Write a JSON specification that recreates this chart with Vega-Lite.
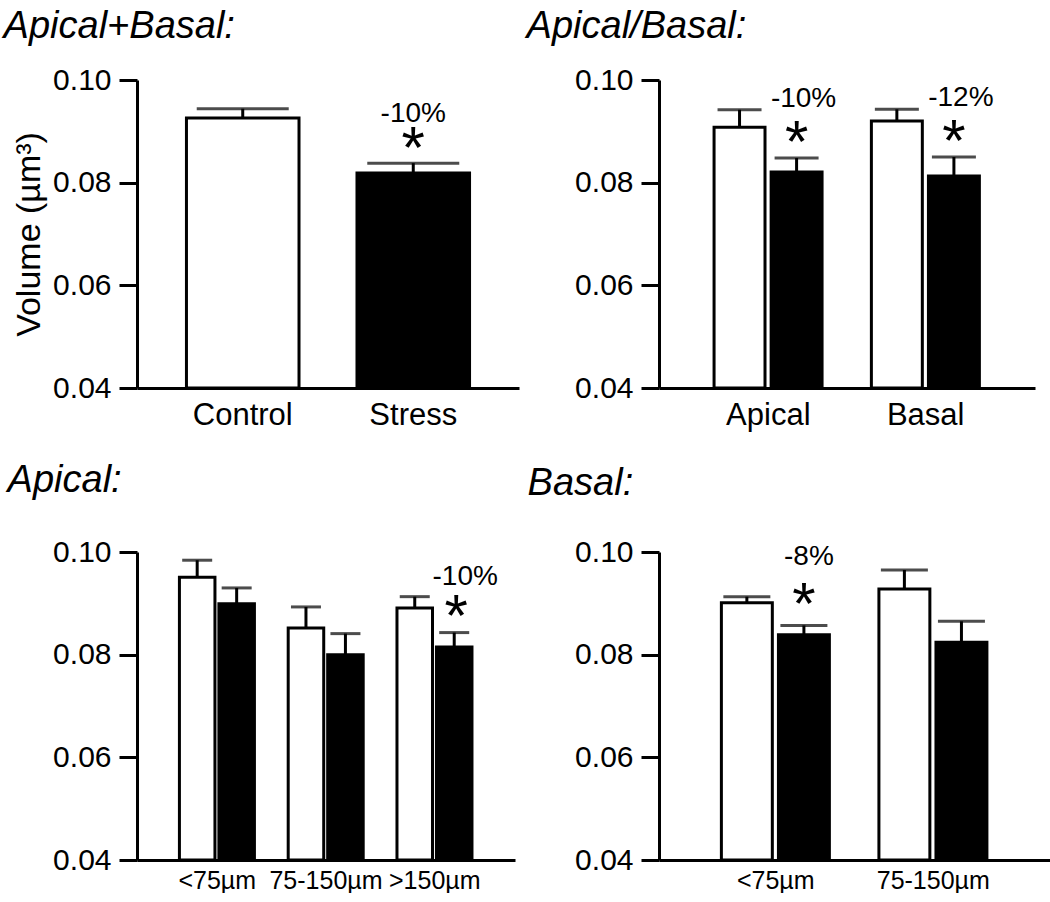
{
  "$schema": "https://vega.github.io/schema/vega-lite/v6.json",
  "background": "white",
  "padding": {"left": 3, "top": 8, "right": 0, "bottom": 0},
  "columns": 2,
  "spacing": {"row": 32, "column": 7},
  "resolve": {"scale": {"xOffset": "independent", "x": "independent", "y": "independent"}},
  "config": {
    "font": "Liberation Sans",
    "view": {"stroke": null},
    "axis": {"domainColor": "black", "domainWidth": 3, "tickColor": "black", "tickWidth": 3, "labelColor": "black", "titleColor": "black", "grid": false, "labelFont": "Liberation Sans", "titleFont": "Liberation Sans"},
    "axisY": {"tickSize": 18, "labelFontSize": 30, "labelPadding": 8, "titleFontSize": 34, "titleFontWeight": "normal", "titlePadding": 6},
    "axisX": {"ticks": false, "labelPadding": 12, "labelAngle": 0, "title": null},
    "title": {"font": "Liberation Sans", "fontStyle": "italic", "fontWeight": "normal", "fontSize": 38, "anchor": "start", "color": "black", "baseline": "alphabetic"}
  },
  "concat": [
    {
      "title": {"text": "Apical+Basal:", "offset": 19, "dx": -9},
      "width": 382, "height": 308,
      "data": {"values": [
        {"cond": "Control", "value": 0.0926, "err": 0.0944, "pct": "", "sig": ""},
        {"cond": "Stress", "value": 0.0819, "err": 0.0838, "pct": "-10%", "sig": "*"}
      ]},
      "encoding": {
        "x": {"field": "cond", "type": "nominal", "sort": null, "title": null, "scale": {"paddingInner": 0.34, "paddingOuter": 0.29}, "axis": {"labelFontSize": 31}}
      },
      "layer": [
        {"mark": {"type": "bar", "stroke": "black", "strokeWidth": 3},
         "encoding": {
           "y": {"field": "value", "type": "quantitative", "title": "Volume (µm³)", "scale": {"domain": [0.04, 0.1], "zero": false, "nice": false}, "axis": {"values": [0.04, 0.06, 0.08, 0.1], "format": ".2f"}},
           "y2": {"datum": 0.04},
           "fill": {"field": "cond", "type": "nominal", "scale": {"domain": ["Control", "Stress"], "range": ["#ffffff", "#000000"]}, "legend": null}
         }},
        {"mark": {"type": "rule", "strokeWidth": 3, "color": "black"},
         "encoding": {"y": {"field": "value", "type": "quantitative", "title": "Volume (µm³)"}, "y2": {"field": "err"}}},
        {"mark": {"type": "tick", "thickness": 3, "size": 92, "color": "black"},
         "encoding": {"y": {"field": "err", "type": "quantitative", "title": "Volume (µm³)"}}},
        {"transform": [{"filter": "datum.sig != ''"}],
         "mark": {"type": "text", "fontSize": 28, "dy": -41, "baseline": "alphabetic", "color": "black"},
         "encoding": {"y": {"field": "err", "type": "quantitative", "title": "Volume (µm³)"}, "text": {"field": "pct"}}},
        {"transform": [{"filter": "datum.sig != ''"}],
         "mark": {"type": "text", "fontSize": 60, "dy": 5, "baseline": "alphabetic", "color": "black"},
         "encoding": {"y": {"field": "err", "type": "quantitative", "title": "Volume (µm³)"}, "text": {"field": "sig"}}}
      ]
    },
    {
      "title": {"text": "Apical/Basal:", "offset": 19, "dx": -48},
      "width": 376, "height": 308,
      "data": {"values": [
        {"grp": "Apical", "cond": "Control", "value": 0.0908, "err": 0.0942, "pct": "", "sig": ""},
        {"grp": "Apical", "cond": "Stress", "value": 0.0821, "err": 0.0848, "pct": "-10%", "sig": "*"},
        {"grp": "Basal", "cond": "Control", "value": 0.0920, "err": 0.0943, "pct": "", "sig": ""},
        {"grp": "Basal", "cond": "Stress", "value": 0.0813, "err": 0.0850, "pct": "-12%", "sig": "*"}
      ]},
      "encoding": {
        "x": {"field": "grp", "type": "nominal", "sort": null, "title": null, "scale": {"paddingInner": 0.31, "paddingOuter": 0.35}, "axis": {"labelFontSize": 31}},
        "xOffset": {"field": "cond", "type": "nominal", "sort": null, "scale": {"range": [0, 108], "paddingInner": 0.107, "paddingOuter": 0}}
      },
      "layer": [
        {"mark": {"type": "bar", "stroke": "black", "strokeWidth": 3},
         "encoding": {
           "y": {"field": "value", "type": "quantitative", "title": null, "scale": {"domain": [0.04, 0.1], "zero": false, "nice": false}, "axis": {"values": [0.04, 0.06, 0.08, 0.1], "format": ".2f"}},
           "y2": {"datum": 0.04},
           "fill": {"field": "cond", "type": "nominal", "scale": {"domain": ["Control", "Stress"], "range": ["#ffffff", "#000000"]}, "legend": null}
         }},
        {"mark": {"type": "rule", "strokeWidth": 3, "color": "black"},
         "encoding": {"y": {"field": "value", "type": "quantitative", "title": null}, "y2": {"field": "err"}}},
        {"mark": {"type": "tick", "thickness": 3, "size": 44, "color": "black"},
         "encoding": {"y": {"field": "err", "type": "quantitative", "title": null}}},
        {"transform": [{"filter": "datum.sig != ''"}],
         "mark": {"type": "text", "fontSize": 28, "dy": -51, "dx": 7, "baseline": "alphabetic", "color": "black"},
         "encoding": {"y": {"field": "err", "type": "quantitative", "title": null}, "text": {"field": "pct"}}},
        {"transform": [{"filter": "datum.sig != ''"}],
         "mark": {"type": "text", "fontSize": 60, "dy": 4, "baseline": "alphabetic", "color": "black"},
         "encoding": {"y": {"field": "err", "type": "quantitative", "title": null}, "text": {"field": "sig"}}}
      ]
    },
    {
      "title": {"text": "Apical:", "offset": 37, "dx": -45},
      "width": 378, "height": 308,
      "data": {"values": [
        {"grp": "<75µm", "cond": "Control", "value": 0.0951, "err": 0.0984, "pct": "", "sig": ""},
        {"grp": "<75µm", "cond": "Stress", "value": 0.0899, "err": 0.0930, "pct": "", "sig": ""},
        {"grp": "75-150µm", "cond": "Control", "value": 0.0852, "err": 0.0893, "pct": "", "sig": ""},
        {"grp": "75-150µm", "cond": "Stress", "value": 0.0800, "err": 0.0841, "pct": "", "sig": ""},
        {"grp": ">150µm", "cond": "Control", "value": 0.0891, "err": 0.0913, "pct": "", "sig": ""},
        {"grp": ">150µm", "cond": "Stress", "value": 0.0815, "err": 0.0843, "pct": "-10%", "sig": "*"}
      ]},
      "encoding": {
        "x": {"field": "grp", "type": "nominal", "sort": null, "title": null, "scale": {"paddingInner": 0.305, "paddingOuter": 0.39}, "axis": {"labelFontSize": 25, "labelPadding": 8}},
        "xOffset": {"field": "cond", "type": "nominal", "sort": null, "scale": {"range": [0, 75], "paddingInner": 0.1, "paddingOuter": 0}}
      },
      "layer": [
        {"mark": {"type": "bar", "stroke": "black", "strokeWidth": 3},
         "encoding": {
           "y": {"field": "value", "type": "quantitative", "title": null, "scale": {"domain": [0.04, 0.1], "zero": false, "nice": false}, "axis": {"values": [0.04, 0.06, 0.08, 0.1], "format": ".2f"}},
           "y2": {"datum": 0.04},
           "fill": {"field": "cond", "type": "nominal", "scale": {"domain": ["Control", "Stress"], "range": ["#ffffff", "#000000"]}, "legend": null}
         }},
        {"mark": {"type": "rule", "strokeWidth": 3, "color": "black"},
         "encoding": {"y": {"field": "value", "type": "quantitative", "title": null}, "y2": {"field": "err"}}},
        {"mark": {"type": "tick", "thickness": 3, "size": 30, "color": "black"},
         "encoding": {"y": {"field": "err", "type": "quantitative", "title": null}}},
        {"transform": [{"filter": "datum.sig != ''"}],
         "mark": {"type": "text", "fontSize": 28, "dy": -48, "dx": 11, "baseline": "alphabetic", "color": "black"},
         "encoding": {"y": {"field": "err", "type": "quantitative", "title": null}, "text": {"field": "pct"}}},
        {"transform": [{"filter": "datum.sig != ''"}],
         "mark": {"type": "text", "fontSize": 60, "dy": 3, "dx": 2, "baseline": "alphabetic", "color": "black"},
         "encoding": {"y": {"field": "err", "type": "quantitative", "title": null}, "text": {"field": "sig"}}}
      ]
    },
    {
      "title": {"text": "Basal:", "offset": 34, "dx": -47},
      "width": 391, "height": 308,
      "data": {"values": [
        {"grp": "<75µm", "cond": "Control", "value": 0.0901, "err": 0.0913, "pct": "", "sig": ""},
        {"grp": "<75µm", "cond": "Stress", "value": 0.0839, "err": 0.0857, "pct": "-8%", "sig": "*"},
        {"grp": "75-150µm", "cond": "Control", "value": 0.0928, "err": 0.0965, "pct": "", "sig": ""},
        {"grp": "75-150µm", "cond": "Stress", "value": 0.0824, "err": 0.0865, "pct": "", "sig": ""}
      ]},
      "encoding": {
        "x": {"field": "grp", "type": "nominal", "sort": null, "title": null, "scale": {"paddingInner": 0.31, "paddingOuter": 0.396}, "axis": {"labelFontSize": 25, "labelPadding": 8}},
        "xOffset": {"field": "cond", "type": "nominal", "sort": null, "scale": {"range": [0, 108], "paddingInner": 0.107, "paddingOuter": 0}}
      },
      "layer": [
        {"mark": {"type": "bar", "stroke": "black", "strokeWidth": 3},
         "encoding": {
           "y": {"field": "value", "type": "quantitative", "title": null, "scale": {"domain": [0.04, 0.1], "zero": false, "nice": false}, "axis": {"values": [0.04, 0.06, 0.08, 0.1], "format": ".2f"}},
           "y2": {"datum": 0.04},
           "fill": {"field": "cond", "type": "nominal", "scale": {"domain": ["Control", "Stress"], "range": ["#ffffff", "#000000"]}, "legend": null}
         }},
        {"mark": {"type": "rule", "strokeWidth": 3, "color": "black"},
         "encoding": {"y": {"field": "value", "type": "quantitative", "title": null}, "y2": {"field": "err"}}},
        {"mark": {"type": "tick", "thickness": 3, "size": 47, "color": "black"},
         "encoding": {"y": {"field": "err", "type": "quantitative", "title": null}}},
        {"transform": [{"filter": "datum.sig != ''"}],
         "mark": {"type": "text", "fontSize": 28, "dy": -60, "dx": 5, "baseline": "alphabetic", "color": "black"},
         "encoding": {"y": {"field": "err", "type": "quantitative", "title": null}, "text": {"field": "pct"}}},
        {"transform": [{"filter": "datum.sig != ''"}],
         "mark": {"type": "text", "fontSize": 60, "dy": -1, "baseline": "alphabetic", "color": "black"},
         "encoding": {"y": {"field": "err", "type": "quantitative", "title": null}, "text": {"field": "sig"}}}
      ]
    }
  ]
}
